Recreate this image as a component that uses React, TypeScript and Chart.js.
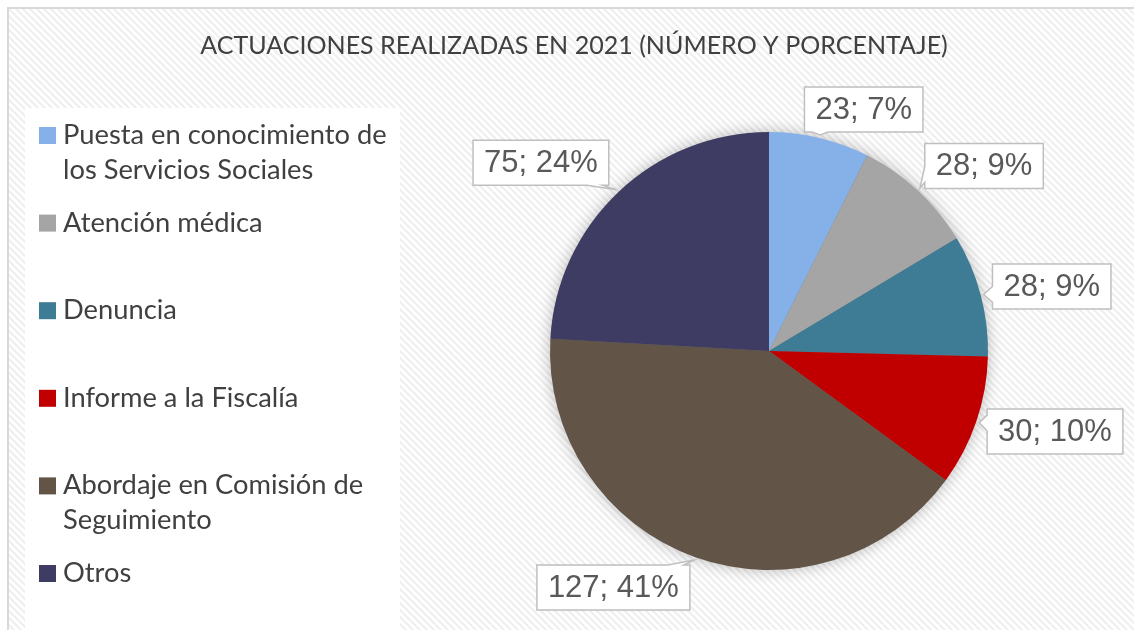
import { useEffect, useRef } from "react";
import { Chart, registerables } from "chart.js";

Chart.register(...registerables);

const TITLE = "ACTUACIONES REALIZADAS EN 2021 (NÚMERO Y PORCENTAJE)";
const categories = [
  "Puesta en conocimiento de los Servicios Sociales",
  "Atención médica",
  "Denuncia",
  "Informe a la Fiscalía",
  "Abordaje en Comisión de Seguimiento",
  "Otros",
];
const counts = [23, 28, 28, 30, 127, 75];
const percents = [7, 9, 9, 10, 41, 24];
const sliceColors = ["#86B1E8", "#A5A5A5", "#3E7B95", "#C00000", "#625446", "#3E3C62"];

// label box nudges (layout only), relative to the default callout position
const LABEL_NUDGE: [number, number][] = [
  [30, 32],
  [24, 21],
  [11, 7],
  [20, -10],
  [-61, -28],
  [-35, 16],
];

const TEXT_DARK = "#404040";
const LABEL_TEXT = "#595959";
const LABEL_BORDER = "#BFBFBF";

function makePattern(ctx: CanvasRenderingContext2D) {
  const c = document.createElement("canvas");
  const P = 7;
  c.width = P;
  c.height = P;
  const p = c.getContext("2d")!;
  p.fillStyle = "#FFFFFF";
  p.fillRect(0, 0, P, P);
  p.strokeStyle = "#EFEFEF";
  p.lineWidth = 2.2;
  p.beginPath();
  p.moveTo(-1, -1);
  p.lineTo(P + 1, P + 1);
  p.moveTo(-P - 1, -1);
  p.lineTo(1, P + 1);
  p.moveTo(P - 1, -1);
  p.lineTo(2 * P + 1, P + 1);
  p.stroke();
  return ctx.createPattern(c, "repeat")!;
}

function wrapText(ctx: CanvasRenderingContext2D, text: string, maxW: number) {
  const words = text.split(" ");
  const lines: string[] = [];
  let cur = "";
  for (const w of words) {
    const t = cur ? cur + " " + w : w;
    if (ctx.measureText(t).width > maxW && cur) {
      lines.push(cur);
      cur = w;
    } else cur = t;
  }
  if (cur) lines.push(cur);
  return lines;
}

const backgroundPlugin = {
  id: "bgDecor",
  beforeDraw(chart: any) {
    const ctx: CanvasRenderingContext2D = chart.ctx;
    const W = chart.width;
    const H = chart.height;
    ctx.save();
    ctx.fillStyle = "#FFFFFF";
    ctx.fillRect(0, 0, W, H);
    ctx.fillStyle = makePattern(ctx);
    ctx.fillRect(8, 8, W, H);
    ctx.strokeStyle = "#D9D9D9";
    ctx.lineWidth = 2;
    ctx.strokeRect(8, 8, W + 20, H + 20);

    // legend area
    ctx.fillStyle = "#FFFFFF";
    ctx.fillRect(25, 108, 375, H);

    // title
    ctx.font = "100px Lato";
    const tw100 = ctx.measureText(TITLE).width;
    const tSize = (100 * 748) / tw100;
    ctx.font = `${tSize}px Lato`;
    ctx.fillStyle = TEXT_DARK;
    ctx.textAlign = "center";
    ctx.textBaseline = "alphabetic";
    ctx.fillText(TITLE, 574, 54);

    // legend
    const colors = chart.data.datasets[0].backgroundColor as string[];
    const labels = chart.data.labels as string[];
    ctx.font = "27.3px Lato";
    ctx.textAlign = "left";
    const firstBase = 144;
    const step = 87.6;
    labels.forEach((lab, i) => {
      const base = firstBase + step * i;
      ctx.fillStyle = colors[i];
      ctx.fillRect(39, base - 17, 17, 17);
      ctx.fillStyle = TEXT_DARK;
      const lines = wrapText(ctx, lab, 335);
      lines.forEach((ln, j) => ctx.fillText(ln, 63, base + j * 35));
    });
    ctx.restore();
  },
  beforeDatasetsDraw(chart: any) {
    const meta = chart.getDatasetMeta(0);
    const el = meta.data[0];
    if (!el) return;
    const ctx: CanvasRenderingContext2D = chart.ctx;
    ctx.save();
    ctx.shadowColor = "rgba(0,0,0,0.3)";
    ctx.shadowBlur = 16;
    ctx.fillStyle = "#777";
    ctx.beginPath();
    ctx.arc(el.x, el.y, el.outerRadius - 1, 0, Math.PI * 2);
    ctx.fill();
    ctx.restore();
  },
  afterDatasetsDraw(chart: any) {
    const meta = chart.getDatasetMeta(0);
    const ctx: CanvasRenderingContext2D = chart.ctx;
    ctx.save();
    ctx.font = "31px 'Liberation Sans', Arial, sans-serif";
    meta.data.forEach((el: any, i: number) => {
      const mid = (el.startAngle + el.endAngle) / 2;
      const r = el.outerRadius;
      const cx = el.x;
      const cy = el.y;
      const cos = Math.cos(mid);
      const sin = Math.sin(mid);
      const bx = cx + (r + 62) * cos + LABEL_NUDGE[i][0];
      const by = cy + (r + 62) * sin + LABEL_NUDGE[i][1];
      const text = `${counts[i]}; ${percents[i]}%`;
      const tw = ctx.measureText(text).width;
      const w = tw + 22;
      const h = 45;
      const L = bx - w / 2;
      const R = bx + w / 2;
      const T = by - h / 2;
      const B = by + h / 2;
      const tx = cx + (r + 3) * cos;
      const ty = cy + (r + 3) * sin;
      const half = 8;
      ctx.beginPath();
      ctx.moveTo(L, T);
      if (ty < T) {
        const c = Math.min(Math.max(tx, L + half + 6), R - half - 6);
        ctx.lineTo(c - half, T);
        ctx.lineTo(tx, ty);
        ctx.lineTo(c + half, T);
      }
      ctx.lineTo(R, T);
      if (!(ty < T) && !(ty > B) && tx > R) {
        const c = Math.min(Math.max(ty, T + half + 6), B - half - 6);
        ctx.lineTo(R, c - half);
        ctx.lineTo(tx, ty);
        ctx.lineTo(R, c + half);
      }
      ctx.lineTo(R, B);
      if (ty > B) {
        const c = Math.min(Math.max(tx, L + half + 6), R - half - 6);
        ctx.lineTo(c + half, B);
        ctx.lineTo(tx, ty);
        ctx.lineTo(c - half, B);
      }
      ctx.lineTo(L, B);
      if (!(ty < T) && !(ty > B) && tx < L) {
        const c = Math.min(Math.max(ty, T + half + 6), B - half - 6);
        ctx.lineTo(L, c + half);
        ctx.lineTo(tx, ty);
        ctx.lineTo(L, c - half);
      }
      ctx.closePath();
      ctx.fillStyle = "#FFFFFF";
      ctx.fill();
      ctx.strokeStyle = LABEL_BORDER;
      ctx.lineWidth = 1.5;
      ctx.stroke();
      ctx.fillStyle = LABEL_TEXT;
      ctx.textAlign = "center";
      ctx.textBaseline = "middle";
      ctx.fillText(text, bx, by + 1);
    });
    ctx.restore();
  },
};

export default function App() {
  const ref = useRef<HTMLCanvasElement>(null);
  useEffect(() => {
    if (!ref.current) return;
    const chart = new Chart(ref.current, {
      type: "pie",
      data: {
        labels: categories,
        datasets: [
          {
            data: counts,
            backgroundColor: sliceColors,
            borderWidth: 0,
            hoverOffset: 0,
          },
        ],
      },
      options: {
        responsive: false,
        animation: false,
        devicePixelRatio: 1,
        events: [],
        layout: { padding: { left: 550, right: 146, top: 132, bottom: 60 } },
        plugins: {
          legend: { display: false },
          title: { display: false },
          tooltip: { enabled: false },
        },
      },
      plugins: [backgroundPlugin],
    });
    return () => chart.destroy();
  }, []);
  return (
    <div style={{ position: "fixed", left: 0, top: 0, width: 1134, height: 630 }}>
      <canvas ref={ref} width={1134} height={630} style={{ width: 1134, height: 630, display: "block" }} />
    </div>
  );
}
